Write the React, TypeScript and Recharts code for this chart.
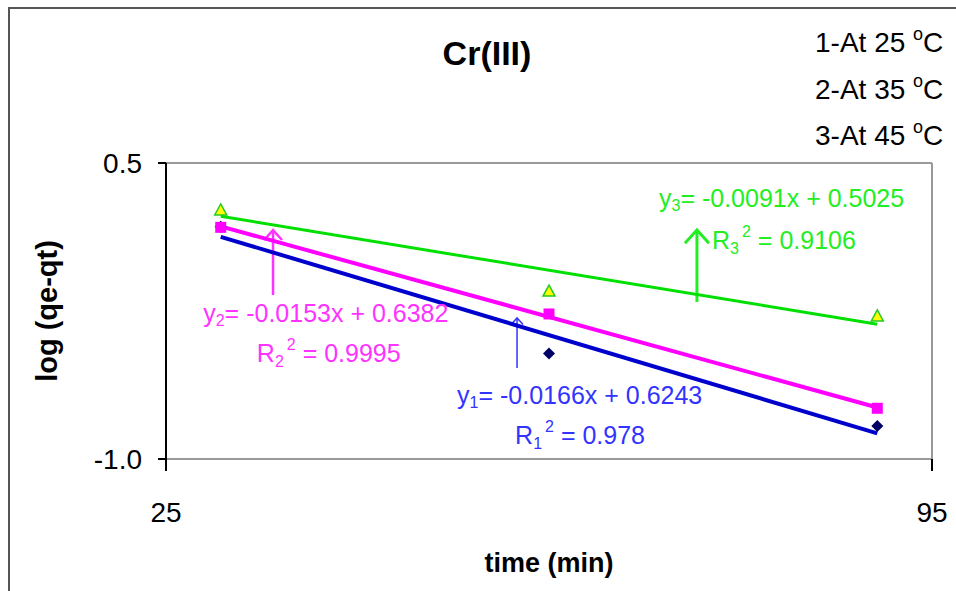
import React from 'react';
import {
  ScatterChart,
  Scatter,
  XAxis,
  YAxis,
  CartesianGrid,
  ReferenceLine,
  ReferenceDot,
} from 'recharts';

// x axis: time (min), y axis: log(qe - qt)
const timeTicks = [25, 95];
const logTicks = [-1.0, 0.5];

// measured points
const points25 = [
  { x: 30, y: 0.177 },
  { x: 60, y: -0.465 },
  { x: 90, y: -0.833 },
];
const points35 = [
  { x: 30, y: 0.174 },
  { x: 60, y: -0.265 },
  { x: 90, y: -0.743 },
];
const points45 = [
  { x: 30, y: 0.262 },
  { x: 60, y: -0.149 },
  { x: 90, y: -0.275 },
];

// linear trendline end points
const fit25 = [
  { x: 30, y: 0.126 },
  { x: 90, y: -0.87 },
];
const fit35 = [
  { x: 30, y: 0.179 },
  { x: 90, y: -0.739 },
];
const fit45 = [
  { x: 30, y: 0.23 },
  { x: 90, y: -0.317 },
];

const legendLines = ['1-At 25', '2-At 35', '3-At 45'];

const equations = [
  { n: '1', eq: '= -0.0166x + 0.6243', r2: ' = 0.978' },
  { n: '2', eq: '= -0.0153x + 0.6382', r2: ' = 0.9995' },
  { n: '3', eq: '= -0.0091x + 0.5025', r2: ' = 0.9106' },
];

// where the labels and arrows sit, in data units
const notes = [
  { color: '#3333ff', arrowW: 1.5, head: 6, eq: { x: 51.6, y: -0.676 }, r2: { x: 56.9, y: -0.878 }, from: { x: 57.08, y: -0.539 }, to: { x: 57.08, y: -0.285 } },
  { color: '#ff33ff', arrowW: 2.5, head: 9, eq: { x: 28.4, y: -0.26 }, r2: { x: 33.3, y: -0.463 }, from: { x: 34.78, y: -0.169 }, to: { x: 34.78, y: 0.16 } },
  { color: '#22ee22', arrowW: 3, head: 12, eq: { x: 70.05, y: 0.323 }, r2: { x: 74.9, y: 0.11 }, from: { x: 73.52, y: -0.204 }, to: { x: 73.52, y: 0.16 } },
];

const FONT = '"Liberation Sans", Arial, sans-serif';

const Diamond = (p: any) => (
  <polygon
    points={`${p.cx},${p.cy - 6} ${p.cx + 6},${p.cy} ${p.cx},${p.cy + 6} ${p.cx - 6},${p.cy}`}
    fill="#000066"
  />
);
const Square = (p: any) => (
  <rect x={p.cx - 5.5} y={p.cy - 5.5} width={11} height={11} fill="#ff00ff" />
);
const Triangle = (p: any) => (
  <polygon
    points={`${p.cx},${p.cy - 6} ${p.cx + 6},${p.cy + 5} ${p.cx - 6},${p.cy + 5}`}
    fill="#ffff00"
    stroke="#22cc22"
    strokeWidth={1.5}
  />
);
const Nothing = () => <g />;

const makeArrow = (color: string, w: number, head: number) => (p: any) => (
  <g>
    <line x1={p.x1} y1={p.y1} x2={p.x2} y2={p.y2} stroke={color} strokeWidth={w} />
    <polyline
      points={`${p.x2 - head},${p.y2 + head * 1.1} ${p.x2},${p.y2} ${p.x2 + head},${p.y2 + head * 1.1}`}
      fill="none"
      stroke={color}
      strokeWidth={w}
    />
  </g>
);

const makeEq = (n: string, text: string, color: string) => (p: any) => (
  <text x={p.cx} y={p.cy + 9} fill={color} fontSize={25} fontFamily={FONT}>
    y<tspan fontSize={16} dy={4}>{n}</tspan>
    <tspan dy={-4}>{text}</tspan>
  </text>
);

const makeR2 = (n: string, text: string, color: string) => (p: any) => (
  <text x={p.cx} y={p.cy + 9} fill={color} fontSize={25} fontFamily={FONT}>
    R<tspan fontSize={16} dy={5}>{n}</tspan>
    <tspan fontSize={16} dx={3} dy={-17}>2</tspan>
    <tspan dy={12}>{text}</tspan>
  </text>
);

export default function App() {
  return (
    <div
      style={{
        position: 'absolute',
        left: 0,
        top: 0,
        width: 956,
        height: 591,
        background: '#fff',
        overflow: 'hidden',
        fontFamily: FONT,
      }}
    >
      <ScatterChart width={956} height={591} margin={{ top: 163, right: 24, bottom: 40, left: 0 }}>
        <CartesianGrid vertical={false} stroke="#999999" strokeWidth={2} />
        <XAxis
          type="number"
          dataKey="x"
          domain={[25, 95]}
          ticks={timeTicks}
          height={92}
          tickSize={12}
          tickMargin={31}
          axisLine={{ stroke: '#999999', strokeWidth: 2 }}
          tickLine={{ stroke: '#000', strokeWidth: 2 }}
          tick={{ fill: '#000', fontSize: 28, fontFamily: FONT }}
          label={{
            value: 'time (min)',
            position: 'bottom',
            offset: 2,
            style: { fontSize: 27, fontWeight: 'bold', fill: '#000', fontFamily: FONT },
          }}
        />
        <YAxis
          type="number"
          dataKey="y"
          domain={[-1, 0.5]}
          ticks={logTicks}
          width={166}
          tickSize={8}
          tickMargin={16}
          tickFormatter={(v: number) => v.toFixed(1)}
          axisLine={{ stroke: '#000', strokeWidth: 2 }}
          tickLine={{ stroke: '#000', strokeWidth: 2 }}
          tick={{ fill: '#000', fontSize: 28, fontFamily: FONT }}
          label={{
            value: 'log (qe-qt)',
            angle: -90,
            position: 'insideLeft',
            offset: 47,
            style: { fontSize: 29, fontWeight: 'bold', fill: '#000', textAnchor: 'middle', fontFamily: FONT },
          }}
        />
        <ReferenceLine x={95} stroke="#999999" strokeWidth={2} />

        <Scatter data={fit45} line={{ stroke: '#00e000', strokeWidth: 3 }} shape={Nothing} isAnimationActive={false} />
        <Scatter data={fit25} line={{ stroke: '#0000cc', strokeWidth: 4 }} shape={Nothing} isAnimationActive={false} />
        <Scatter data={fit35} line={{ stroke: '#ff00ff', strokeWidth: 4 }} shape={Nothing} isAnimationActive={false} />

        <Scatter data={points25} shape={Diamond} isAnimationActive={false} />
        <Scatter data={points35} shape={Square} isAnimationActive={false} />
        <Scatter data={points45} shape={Triangle} isAnimationActive={false} />

        {notes.map((nt, i) => (
          <ReferenceLine
            key={'a' + i}
            segment={[nt.from, nt.to]}
            shape={makeArrow(nt.color, nt.arrowW, nt.head)}
          />
        ))}
        {notes.map((nt, i) => (
          <ReferenceDot
            key={'e' + i}
            x={nt.eq.x}
            y={nt.eq.y}
            r={0}
            shape={makeEq(equations[i].n, equations[i].eq, nt.color)}
          />
        ))}
        {notes.map((nt, i) => (
          <ReferenceDot
            key={'r' + i}
            x={nt.r2.x}
            y={nt.r2.y}
            r={0}
            shape={makeR2(equations[i].n, equations[i].r2, nt.color)}
          />
        ))}
      </ScatterChart>

      <svg
        width={956}
        height={591}
        style={{ position: 'absolute', left: 0, top: 0, pointerEvents: 'none' }}
      >
        <rect x={9} y={8} width={960} height={600} fill="none" stroke="#555" strokeWidth={2} />
        <text x={487} y={65} textAnchor="middle" fontSize={34} fontWeight="bold" fontFamily={FONT}>
          Cr(III)
        </text>
        {legendLines.map((t, i) => (
          <text key={t} x={815} y={52 + i * 46.5} fontSize={28} fontFamily={FONT}>
            {t} <tspan fontSize={18} dy={-12}>o</tspan>
            <tspan dy={12}>C</tspan>
          </text>
        ))}
      </svg>
    </div>
  );
}
